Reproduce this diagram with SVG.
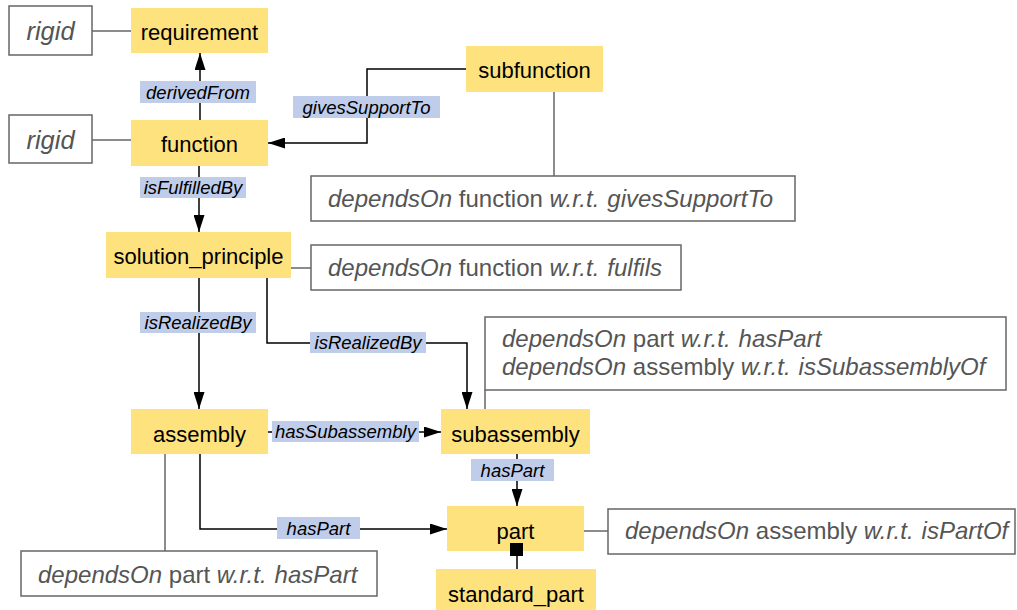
<svg xmlns="http://www.w3.org/2000/svg" width="1017" height="610" viewBox="0 0 1017 610">
<style>
.node rect{fill:#FEE27E;stroke:none}
.node text{font-family:"Liberation Sans",Arial,sans-serif;font-size:22px;fill:#000;text-anchor:middle}
.note rect{fill:#fff;stroke:#666;stroke-width:1.5}
.note text{font-family:"Liberation Sans",Arial,sans-serif;font-size:24px;fill:#555}
.note text.rg{font-size:25.5px}
.it{font-style:italic}
.nl{stroke:#666;stroke-width:1.5;fill:none}
.edge{stroke:#000;stroke-width:1.5;fill:none}
.lbl rect{fill:#BFCDEB}
.lbl text{font-family:"Liberation Sans",Arial,sans-serif;font-size:18.5px;font-style:italic;fill:#000;text-anchor:middle}
</style>
<defs>
<marker id="arr" markerWidth="17" markerHeight="11" refX="17" refY="5.5" orient="auto" markerUnits="userSpaceOnUse">
<path d="M0,0 L17,5.5 L0,11 Z" fill="#000"/>
</marker>
</defs>
<rect width="1017" height="610" fill="#fff"/>
<g id="requirement" class="node"><rect x="131" y="8" width="137" height="45"/><text x="199.5" y="40">requirement</text></g>
<g id="function" class="node"><rect x="131" y="120" width="137" height="46"/><text x="199.5" y="152">function</text></g>
<g id="subfunction" class="node"><rect x="466" y="46" width="137" height="46"/><text x="534.5" y="78">subfunction</text></g>
<g id="solution_principle" class="node"><rect x="106" y="232" width="185" height="46"/><text x="198.5" y="264">solution_principle</text></g>
<g id="assembly" class="node"><rect x="131" y="409" width="137" height="45"/><text x="199.5" y="442">assembly</text></g>
<g id="subassembly" class="node"><rect x="441" y="409" width="149" height="45"/><text x="515.5" y="442">subassembly</text></g>
<g id="part" class="node"><rect x="447" y="506" width="137" height="45"/><text x="515.5" y="539">part</text></g>
<g id="standard_part" class="node"><rect x="436" y="569" width="160" height="41"/><text x="516" y="602">standard_part</text></g>
<g id="note_rigid1" class="note"><rect x="9" y="6" width="83" height="49"/><text x="50.5" y="40" text-anchor="middle" class="it rg">rigid</text></g>
<g id="note_rigid2" class="note"><rect x="9" y="115" width="83" height="48"/><text x="50.5" y="149" text-anchor="middle" class="it rg">rigid</text></g>
<g id="note_subfunction" class="note"><rect x="311" y="176" width="484" height="45"/><text x="328" y="207"><tspan class="it">dependsOn</tspan> function <tspan class="it">w.r.t.</tspan><tspan class="it" dx="8">givesSupportTo</tspan></text></g>
<g id="note_solution" class="note"><rect x="311" y="245" width="370" height="45"/><text x="328" y="276"><tspan class="it">dependsOn</tspan> function <tspan class="it">w.r.t.</tspan><tspan class="it" dx="8">fulfils</tspan></text></g>
<g id="note_subassembly" class="note"><rect x="485" y="317" width="521" height="73"/><text x="502" y="347"><tspan class="it">dependsOn</tspan> part <tspan class="it">w.r.t.</tspan><tspan class="it" dx="8">hasPart</tspan></text><text x="502" y="375"><tspan class="it">dependsOn</tspan> assembly <tspan class="it">w.r.t.</tspan><tspan class="it" dx="8">isSubassemblyOf</tspan></text></g>
<g id="note_part" class="note"><rect x="608" y="509" width="407" height="45"/><text x="625" y="539"><tspan class="it">dependsOn</tspan> assembly <tspan class="it">w.r.t.</tspan><tspan class="it" dx="8">isPartOf</tspan></text></g>
<g id="note_assembly" class="note"><rect x="21" y="551" width="356" height="45"/><text x="38" y="583"><tspan class="it">dependsOn</tspan> part <tspan class="it">w.r.t.</tspan><tspan class="it" dx="8">hasPart</tspan></text></g>
<g id="connectors">
<line class="nl" x1="92" y1="31" x2="131" y2="31"/>
<line class="nl" x1="92" y1="140" x2="131" y2="140"/>
<line class="nl" x1="554" y1="92" x2="554" y2="176"/>
<line class="nl" x1="291" y1="268" x2="311" y2="268"/>
<line class="nl" x1="485" y1="390" x2="485" y2="409"/>
<line class="nl" x1="584" y1="531" x2="608" y2="531"/>
<line class="nl" x1="165" y1="454" x2="165" y2="551"/>
<line class="edge" x1="200" y1="120" x2="200" y2="53" marker-end="url(#arr)"/>
<polyline class="edge" points="466,69 367,69 367,143 268,143" marker-end="url(#arr)"/>
<line class="edge" x1="199" y1="166" x2="199" y2="232" marker-end="url(#arr)"/>
<line class="edge" x1="199" y1="278" x2="199" y2="409" marker-end="url(#arr)"/>
<polyline class="edge" points="267,278 267,343 467,343 467,409" marker-end="url(#arr)"/>
<line class="edge" x1="268" y1="432" x2="441" y2="432" marker-end="url(#arr)"/>
<line class="edge" x1="517" y1="454" x2="517" y2="506" marker-end="url(#arr)"/>
<polyline class="edge" points="200,454 200,529 447,529" marker-end="url(#arr)"/>
<line class="edge" x1="517" y1="569" x2="517" y2="552"/>
<rect x="510" y="543" width="13" height="13" fill="#000"/>
<g class="lbl"><rect x="140" y="81" width="116" height="22"/><text x="198" y="99">derivedFrom</text></g>
<g class="lbl"><rect x="293" y="96" width="147" height="22"/><text x="366.5" y="114">givesSupportTo</text></g>
<g class="lbl"><rect x="140" y="177" width="106" height="21"/><text x="193" y="194">isFulfilledBy</text></g>
<g class="lbl"><rect x="140" y="312" width="116" height="21"/><text x="198" y="329">isRealizedBy</text></g>
<g class="lbl"><rect x="310" y="332" width="116" height="21"/><text x="368" y="349">isRealizedBy</text></g>
<g class="lbl"><rect x="272" y="421" width="147" height="21"/><text x="345.5" y="438">hasSubassembly</text></g>
<g class="lbl"><rect x="471" y="459" width="83" height="22"/><text x="512.5" y="477">hasPart</text></g>
<g class="lbl"><rect x="277" y="517" width="83" height="22"/><text x="318.5" y="535">hasPart</text></g>
</g>
</svg>
